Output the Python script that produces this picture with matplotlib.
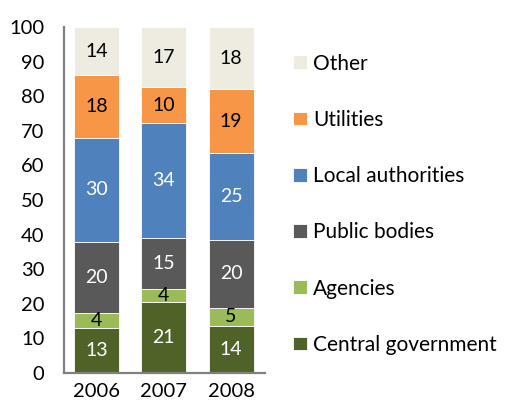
import matplotlib.pyplot as plt
import numpy as np

plt.rcParams['font.family'] = ['Lato', 'DejaVu Sans']

years = ['2006', '2007', '2008']
labels = ['Central government', 'Agencies', 'Public bodies',
          'Local authorities', 'Utilities', 'Other']
central = [13.1, 20.6, 13.7]
agencies = [4.2, 3.6, 5.2]
public = [20.5, 14.7, 19.5]
local = [30.2, 33.4, 25.1]
utilities = [18.1, 10.3, 18.5]
other = [13.9, 17.4, 18.0]
shown = [[13, 21, 14], [4, 4, 5], [20, 15, 20], [30, 34, 25], [18, 10, 19], [14, 17, 18]]

colors = ['#4F6228', '#9BBB59', '#595959', '#4F81BD', '#F79646', '#EEECE1']
txtcol = ['white', 'black', 'white', 'white', 'black', 'black']

fig = plt.figure(figsize=(5.09, 4.03), dpi=100)
ax = fig.add_axes([0.1252, 0.0744, 0.3955, 0.8586])

x = np.arange(len(years))
bottom = np.zeros(len(years))
handles = []
for i, vals in enumerate([central, agencies, public, local, utilities, other]):
    vals = np.array(vals)
    b = ax.bar(x, vals, 0.67, bottom=bottom, color=colors[i],
               edgecolor='white', linewidth=0.6, label=labels[i])
    handles.append(b)
    for j in range(len(years)):
        ax.text(x[j], bottom[j] + vals[j] / 2, str(shown[i][j]),
                ha='center', va='center', fontsize=14, color=txtcol[i])
    bottom += vals

ax.set_xlim(-0.487, 2.505)
ax.set_ylim(0, 100)
ax.set_yticks(range(0, 101, 10))
ax.set_xticks(x)
ax.set_xticklabels(years)
ax.tick_params(axis='y', length=0, pad=14, labelsize=14.5)
ax.tick_params(axis='x', length=0, pad=7, labelsize=14.5)
for s in ['top', 'right']:
    ax.spines[s].set_visible(False)
for s in ['left', 'bottom']:
    ax.spines[s].set_color('#808080')
    ax.spines[s].set_linewidth(1.6)

leg = fig.legend(handles[::-1], labels[::-1], loc='upper left',
                 bbox_to_anchor=(0.556, 0.893), frameon=False, fontsize=15,
                 handlelength=0.65, handleheight=0.65, handletextpad=0.3,
                 labelspacing=1.74, borderpad=0)

fig.savefig('out.png', dpi=100)
